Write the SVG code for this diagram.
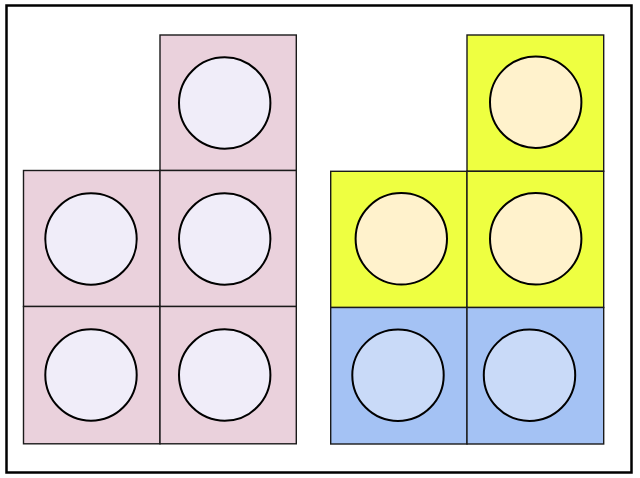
<svg xmlns="http://www.w3.org/2000/svg" width="640" height="478" viewBox="0 0 640 478">
<style>
.sq{stroke:#1a1a1a;stroke-width:1.4}
.p{fill:#ead1dc}
.y{fill:#eeff41}
.b{fill:#a4c2f4}
.c{stroke:#000;stroke-width:2}
.cp{fill:#f0edf9}
.cy{fill:#fff2cc}
.cb{fill:#c9daf8}
</style>
<rect x="0" y="0" width="640" height="478" fill="#fff"/>
<rect x="6.5" y="5.5" width="625" height="467" fill="none" stroke="#000" stroke-width="2.5"/>
<g id="left">
<g id="l1"><rect class="sq p" x="160" y="35" width="136.3" height="135.5"/><circle class="c cp" cx="224.7" cy="103" r="45.7"/></g>
<g id="l2"><rect class="sq p" x="23.5" y="170.5" width="136.5" height="136"/><circle class="c cp" cx="91" cy="239" r="45.7"/></g>
<g id="l3"><rect class="sq p" x="160" y="170.5" width="136.3" height="136"/><circle class="c cp" cx="224.7" cy="239" r="45.7"/></g>
<g id="l4"><rect class="sq p" x="23.5" y="306.5" width="136.5" height="137.3"/><circle class="c cp" cx="91" cy="375" r="45.7"/></g>
<g id="l5"><rect class="sq p" x="160" y="306.5" width="136.3" height="137.3"/><circle class="c cp" cx="224.7" cy="375" r="45.7"/></g>
</g>
<g id="right">
<g id="r1"><rect class="sq y" x="467" y="35" width="136.7" height="136.3"/><circle class="c cy" cx="535.7" cy="102.2" r="45.7"/></g>
<g id="r2"><rect class="sq y" x="330.7" y="171.3" width="136.3" height="136.2"/><circle class="c cy" cx="401.3" cy="238.8" r="45.7"/></g>
<g id="r3"><rect class="sq y" x="467" y="171.3" width="136.7" height="136.2"/><circle class="c cy" cx="535.7" cy="238.8" r="45.7"/></g>
<g id="r4"><rect class="sq b" x="330.7" y="307.5" width="136.3" height="136.5"/><circle class="c cb" cx="398" cy="375.2" r="45.7"/></g>
<g id="r5"><rect class="sq b" x="467" y="307.5" width="136.7" height="136.5"/><circle class="c cb" cx="529.5" cy="375.2" r="45.7"/></g>
</g>
<g id="connectors"/>
</svg>
